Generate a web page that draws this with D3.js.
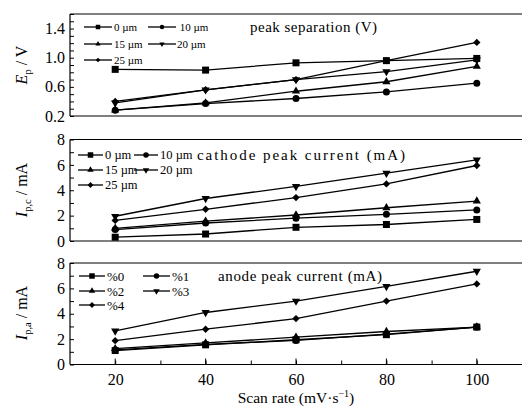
<!DOCTYPE html>
<html><head><meta charset="utf-8">
<script src="https://cdn.jsdelivr.net/npm/d3@7"></script>
<style>body{margin:0;background:#fff}svg{display:block}svg text{font-family:"Liberation Serif","Times New Roman",Tinos,"Noto Serif","DejaVu Serif",serif !important;fill:#000}</style>
</head><body><svg id="c" width="522" height="409" font-family="Liberation Serif, Times New Roman, serif"></svg>
<script>
const scanRates = [20, 40, 60, 80, 100];
const xTicks = [20, 40, 60, 80, 100];
// Panel 1: peak separation (V)
const epSeries = ["0 µm", " 10 µm", "15 µm", "20 µm", "25 µm"];
const ep0 = [0.84, 0.83, 0.93, 0.96, 0.99];
const ep10 = [0.28, 0.37, 0.44, 0.53, 0.65];
const ep15 = [0.28, 0.38, 0.54, 0.67, 0.88];
const ep20 = [0.38, 0.56, 0.70, 0.81, 0.97];
const ep25 = [0.40, 0.56, 0.70, 0.96, 1.21];
const epTicks = [0.2, 0.6, 1.0, 1.4];
// Panel 2: cathode peak current (mA)
const ipcSeries = ["0 µm", "10 µm", "15 µm", "20 µm", "25 µm"];
const ipc0 = [0.30, 0.55, 1.08, 1.30, 1.70];
const ipc10 = [0.90, 1.42, 1.80, 2.10, 2.45];
const ipc15 = [1.00, 1.56, 2.05, 2.62, 3.15];
const ipc20 = [1.95, 3.35, 4.30, 5.35, 6.40];
const ipc25 = [1.62, 2.50, 3.42, 4.50, 5.95];
const ipTicks = [0, 2, 4, 6, 8];
// Panel 3: anode peak current (mA)
const ipaSeries = ["%0", "%1", "%2", "%3", "%4"];
const ipa0 = [1.10, 1.55, 1.95, 2.35, 2.95];
const ipa1 = [1.15, 1.58, 1.90, 2.40, 2.95];
const ipa2 = [1.25, 1.70, 2.15, 2.60, 2.95];
const ipa3 = [2.65, 4.10, 5.00, 6.15, 7.35];
const ipa4 = [1.88, 2.78, 3.62, 5.00, 6.35];

const FONT = '"Liberation Serif","Times New Roman",serif';
const svg = d3.select("#c");
const x = d3.scaleLinear().domain([10, 110]).range([70, 522]);
const shapes = ["square", "circle", "up", "down", "diamond"];

function sym(kind, s) {
  const g = d3.symbol();
  if (kind === "square") return {d: g.type(d3.symbolSquare).size(s * s)(), r: 0};
  if (kind === "circle") return {d: g.type(d3.symbolCircle).size(Math.PI * s * s / 4)(), r: 0};
  if (kind === "up") return {d: g.type(d3.symbolTriangle).size(s * s * 0.6)(), r: 0};
  if (kind === "down") return {d: g.type(d3.symbolTriangle).size(s * s * 0.6)(), r: 180};
  return {d: g.type(d3.symbolSquare).size(s * s * 0.55)(), r: 45};
}

const panels = [
  {top: 14, bottom: 116, domain: [0.2, 1.6], ticks: epTicks, minor: 0.1, fmt: d3.format(".1f"),
   series: [ep0, ep10, ep15, ep20, ep25], names: epSeries, title: "peak separation (V)", titleX: 250, titleY: 32, titleSize: 15, titleLen: 127,
   leg: {rows: [27, 44, 60], cols: [[84, 112, 114], [148, 176, 177]], fs: 11, ms: 4.5},
   ylab: ["E", "p", " / V"], ylabY: 65, msz: 7},
  {top: 139.5, bottom: 241, domain: [0, 8], ticks: ipTicks, minor: 1, fmt: d3.format("d"),
   series: [ipc0, ipc10, ipc15, ipc20, ipc25], names: ipcSeries, title: "cathode peak current (mA)", titleX: 197, titleY: 160, titleSize: 15, titleLen: 208,
   leg: {rows: [155, 170, 185], cols: [[78, 103, 105], [134, 158, 160]], fs: 12.5, ms: 5.5},
   ylab: ["I", "p,c", " / mA"], ylabY: 190, msz: 7},
  {top: 263, bottom: 364.5, domain: [0, 8], ticks: ipTicks, minor: 1, fmt: d3.format("d"),
   series: [ipa0, ipa1, ipa2, ipa3, ipa4], names: ipaSeries, title: "anode peak current (mA)", titleX: 218, titleY: 281, titleSize: 15, titleLen: 164,
   leg: {rows: [276, 291, 305], cols: [[79, 105, 107], [143, 170, 172]], fs: 13, ms: 5.5},
   ylab: ["I", "p,a", " / mA"], ylabY: 313, msz: 7}
];

panels.forEach((p, pi) => {
  const y = d3.scaleLinear().domain(p.domain).range([p.bottom, p.top]);
  const g = svg.append("g");
  g.append("line").attr("x1", 70).attr("x2", 522).attr("y1", p.top).attr("y2", p.top).attr("stroke", "#000").attr("stroke-width", 1.2);
  g.append("line").attr("x1", 70).attr("x2", 522).attr("y1", p.bottom).attr("y2", p.bottom).attr("stroke", "#000").attr("stroke-width", 1.2);
  g.append("line").attr("x1", 70).attr("x2", 70).attr("y1", p.top).attr("y2", p.bottom).attr("stroke", "#000").attr("stroke-width", 1.2);
  const minorVals = d3.range(p.domain[0], p.domain[1] + 1e-9, p.minor).map(v => +v.toFixed(4));
  g.append("g").attr("transform", "translate(70,0)")
    .call(d3.axisRight(y).tickValues(minorVals).tickSize(4).tickFormat(""))
    .call(a => a.select(".domain").remove())
    .call(a => a.selectAll("line").attr("stroke-width", 1));
  g.append("g").attr("transform", "translate(70,0)").attr("font-family", FONT)
    .call(d3.axisLeft(y).tickValues(p.ticks).tickSize(0).tickPadding(5).tickFormat(p.fmt))
    .call(a => a.select(".domain").remove())
    .call(a => a.selectAll("text").style("font-size", "16px"));
  const yl = g.append("text").attr("transform", `translate(27,${p.ylabY}) rotate(-90)`).attr("text-anchor", "middle").style("font-size", "16px");
  yl.append("tspan").style("font-style", "italic").text(p.ylab[0]);
  yl.append("tspan").attr("dy", 4).style("font-size", "10.5px").text(p.ylab[1]);
  yl.append("tspan").attr("dy", -4).text(p.ylab[2]);
  const line = d3.line().x((d, i) => x(scanRates[i])).y(d => y(d));
  p.series.forEach((s, si) => {
    g.append("path").attr("d", line(s)).attr("fill", "none").attr("stroke", "#000").attr("stroke-width", 1.3);
    const sm = sym(shapes[si], p.msz);
    g.selectAll(null).data(s).join("path")
      .attr("d", sm.d)
      .attr("transform", (d, i) => `translate(${x(scanRates[i])},${y(d)}) rotate(${sm.r})`)
      .attr("fill", "#000");
  });
  p.names.forEach((n, si) => {
    const r = Math.floor(si / 2), c = si % 2;
    const [x1, x2, tx] = p.leg.cols[c];
    const yy = p.leg.rows[r];
    g.append("line").attr("x1", x1).attr("x2", x2).attr("y1", yy).attr("y2", yy).attr("stroke", "#000").attr("stroke-width", 1.3);
    const sm = sym(shapes[si], p.leg.ms);
    g.append("path").attr("d", sm.d).attr("transform", `translate(${(x1 + x2) / 2},${yy}) rotate(${sm.r})`).attr("fill", "#000");
    g.append("text").attr("x", tx).attr("y", yy).attr("dy", "0.35em").attr("xml:space", "preserve").style("white-space", "pre").style("font-size", p.leg.fs + "px").text(n);
  });
  g.append("text").attr("x", p.titleX).attr("y", p.titleY).attr("textLength", p.titleLen).attr("lengthAdjust", "spacing")
    .style("font-size", p.titleSize + "px").text(p.title);
  if (pi === 2) {
    const xMinor = d3.range(20, 111, 10);
    g.append("g").attr("transform", `translate(0,${p.bottom})`)
      .call(d3.axisTop(x).tickValues(xMinor).tickSize(4).tickFormat(""))
      .call(a => a.select(".domain").remove());
    g.append("g").attr("transform", `translate(0,${p.bottom})`).attr("font-family", FONT)
      .call(d3.axisBottom(x).tickValues(xTicks).tickSize(0).tickPadding(9).tickFormat(d3.format("d")))
      .call(a => a.select(".domain").remove())
      .call(a => a.selectAll("text").style("font-size", "16px"));
    g.selectAll(null).data(xTicks).join("line")
      .attr("x1", d => x(d)).attr("x2", d => x(d)).attr("y1", p.bottom).attr("y2", p.bottom - 6).attr("stroke", "#000");
    const xt = svg.append("text").attr("x", 296).attr("y", 403).attr("text-anchor", "middle").style("font-size", "15.5px");
    xt.append("tspan").text("Scan rate (mV·s");
    xt.append("tspan").attr("dy", -6).style("font-size", "10px").text("−1");
    xt.append("tspan").attr("dy", 6).text(")");
  }
});
</script></body></html>
